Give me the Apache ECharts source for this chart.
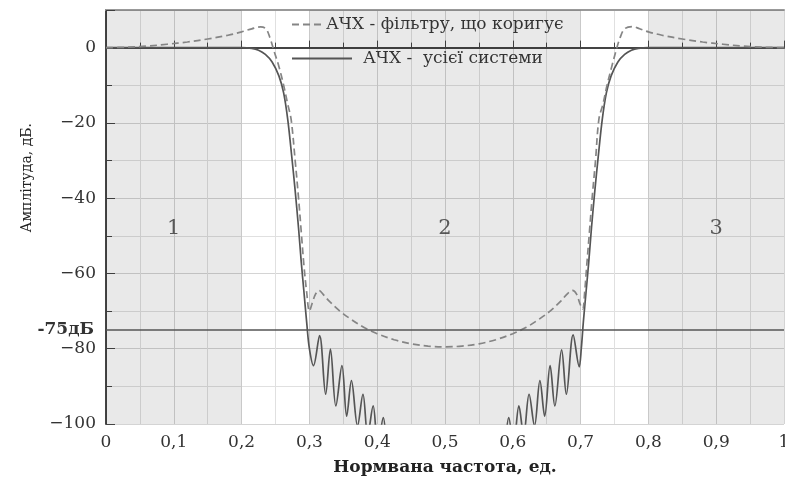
<!DOCTYPE html>
<html><head><meta charset="utf-8">
<script src="https://cdn.jsdelivr.net/npm/echarts@6/dist/echarts.min.js"></script>
<style>html,body{margin:0;padding:0;background:#fff}#c{width:785px;height:489px}</style>
</head><body><div id="c"></div>
<script>
// ---- data ----
const xTickValues = [0, 0.1, 0.2, 0.3, 0.4, 0.5, 0.6, 0.7, 0.8, 0.9, 1];
const yTickValues = [0, -20, -40, -60, -80, -100];
const refLevel = -75;
const refLabel = '-75дБ';
const shadedBands = [[0, 0.2], [0.3, 0.7], [0.8, 1]];
const regionNames = ['1', '2', '3'];
const regionX = [0.1, 0.5, 0.9];
const regionY = [-48, -48, -48];

const systemName = 'АЧХ -  усієї системи';
const systemX = [0, 0.1, 0.2, 0.215, 0.225, 0.235, 0.245, 0.255, 0.262, 0.268, 0.274, 0.279, 0.284, 0.288, 0.292, 0.296, 0.300, 0.306,
  0.315, 0.324, 0.331, 0.339, 0.348, 0.355, 0.362, 0.371, 0.379, 0.386, 0.394, 0.401, 0.409, 0.416, 0.423, 0.43, 0.45, 0.5,
  0.55, 0.57, 0.579, 0.586, 0.594, 0.601, 0.609, 0.616, 0.624, 0.632, 0.640, 0.647, 0.655, 0.662, 0.672, 0.679, 0.689, 0.698,
  0.701, 0.704, 0.708, 0.712, 0.716, 0.721, 0.726, 0.732, 0.738, 0.745, 0.755, 0.765, 0.775, 0.785, 0.8, 0.9, 1];
const systemY = [0, 0, 0, -0.2, -0.7, -1.8, -3.8, -7.5, -12, -19, -29, -38, -48, -57, -65, -73, -80, -84.5,
  -76.5, -92.1, -80.1, -95.2, -84.5, -97.9, -88.5, -100.5, -92.1, -103, -95.2, -106, -98.3, -108, -101, -110, -120, -125,
  -120, -110, -101, -108, -98.3, -106, -95.2, -103, -92.1, -100.5, -88.5, -97.9, -84.5, -95.2, -80.3, -92.1, -76.3, -84.8,
  -80, -73, -65, -57, -48, -38, -29, -19, -12, -7.5, -3.8, -1.8, -0.7, -0.2, 0, 0, 0];

const filterName = 'АЧХ - фільтру, що коригує';
const filterX = [0, 0.03, 0.06, 0.09, 0.12, 0.15, 0.18, 0.2, 0.215, 0.228, 0.236, 0.242, 0.248, 0.255, 0.262, 0.268, 0.273, 0.279,
  0.284, 0.288, 0.292, 0.296, 0.300, 0.304, 0.309, 0.314, 0.32, 0.33, 0.345, 0.36, 0.38, 0.40, 0.425, 0.45, 0.475, 0.5,
  0.525, 0.55, 0.575, 0.6, 0.62, 0.64, 0.655, 0.67, 0.68, 0.688, 0.694, 0.699, 0.703, 0.706, 0.709, 0.713, 0.717, 0.722,
  0.727, 0.733, 0.739, 0.746, 0.752, 0.758, 0.765, 0.777, 0.787, 0.8, 0.82, 0.85, 0.88, 0.91, 0.94, 0.97, 1];
const filterY = [0, 0.1, 0.4, 0.9, 1.5, 2.3, 3.3, 4.2, 5.0, 5.5, 5.0, 2.5, -1, -5, -10, -15, -19, -30,
  -40, -49, -58, -65, -70, -68, -65.5, -64.5, -65.5, -67.5, -70, -72, -74.3, -76, -77.6, -78.7, -79.3, -79.5,
  -79.3, -78.7, -77.6, -76, -74.3, -72, -70, -67.5, -65.5, -64.5, -65.5, -68, -69.5, -65, -58, -49, -40, -30,
  -19, -15, -10, -5, -1, 2.5, 5.0, 5.6, 5.0, 4.2, 3.3, 2.3, 1.5, 0.9, 0.4, 0.1, 0];

// ---- chart ----
const zip = (xs, ys) => xs.map((x, i) => [x, ys[i]]);
const serif = 'DejaVu Serif';
const chart = echarts.init(document.getElementById('c'), null, {renderer: 'canvas'});
chart.setOption({
  animation: false,
  backgroundColor: '#fff',
  textStyle: {fontFamily: serif},
  grid: {left: 106, right: 1, top: 10, bottom: 65, containLabel: false, outerBoundsMode: 'none'},
  legend: [
    {data: [filterName], left: 286, top: 11, itemWidth: 32, itemHeight: 12, itemStyle: {opacity: 0},
     textStyle: {fontFamily: serif, fontSize: 17, color: '#333', padding: [0, 0, 0, -3]}},
    {data: [systemName], left: 286, top: 45, itemWidth: 60, itemHeight: 12, itemStyle: {opacity: 0},
     textStyle: {fontFamily: serif, fontSize: 17, color: '#333', padding: [0, 0, 0, 6]}}
  ],
  xAxis: [{
    type: 'value', min: 0, max: 1, interval: 0.1,
    name: 'Нормвана частота, ед.', nameLocation: 'middle', nameGap: 35,
    nameTextStyle: {fontFamily: serif, fontSize: 17, fontWeight: 'bold', color: '#222'},
    axisLine: {show: true, lineStyle: {color: '#444', width: 2}},
    axisTick: {show: true, inside: true, length: 7, lineStyle: {color: '#444'}},
    minorTick: {show: true, splitNumber: 2, length: 5, lineStyle: {color: '#444'}},
    splitLine: {show: true, lineStyle: {color: '#d4d4d4', width: 1}},
    minorSplitLine: {show: true, lineStyle: {color: '#e0e0e0', width: 1}},
    axisLabel: {fontFamily: serif, fontSize: 17, color: '#333', margin: 10,
      formatter: v => xTickValues.some(t => Math.abs(t - v) < 1e-6) ? String(Math.round(v * 10) / 10).replace('.', ',') : ''}
  }, {
    type: 'value', min: 0, max: 1, position: 'top',
    axisLine: {show: true, lineStyle: {color: '#999', width: 2}},
    axisTick: {show: false}, axisLabel: {show: false}, splitLine: {show: false}
  }],
  yAxis: {
    type: 'value', min: -100, max: 10, interval: 20,
    axisLine: {show: true, lineStyle: {color: '#444', width: 2}},
    axisTick: {show: true, inside: true, length: 9, lineStyle: {color: '#444'}},
    minorTick: {show: true, splitNumber: 2, length: 6, lineStyle: {color: '#444'}},
    splitLine: {show: true, lineStyle: {color: '#d4d4d4', width: 1}},
    minorSplitLine: {show: true, lineStyle: {color: '#e0e0e0', width: 1}},
    axisLabel: {fontFamily: serif, fontSize: 17, color: '#333', margin: 10,
      formatter: v => yTickValues.includes(v) ? String(v).replace('-', '\u2212') : ''}
  },
  graphic: [{
    type: 'text', left: 20, top: 123, rotation: Math.PI / 2,
    style: {text: 'Амплітуда, дБ.', font: '14px "DejaVu Serif"', fill: '#222'}
  }],
  series: [
    {
      name: systemName, type: 'line', data: zip(systemX, systemY),
      symbol: 'none', smooth: 0.35, clip: true, z: 3,
      lineStyle: {color: '#555', width: 1.7},
      itemStyle: {color: '#555'},
      markArea: {silent: true, itemStyle: {color: 'rgba(0,0,0,0.085)'},
        data: shadedBands.map(b => [{xAxis: b[0]}, {xAxis: b[1]}])},
      markLine: {silent: true, symbol: 'none', lineStyle: {color: '#555', width: 1.5, type: 'solid'},
        label: {show: true, position: 'start', formatter: refLabel, fontFamily: serif, fontSize: 17, fontWeight: 'bold', color: '#333', distance: 12},
        data: [{yAxis: refLevel}]}
    },
    {
      name: filterName, type: 'line', data: zip(filterX, filterY),
      symbol: 'none', smooth: 0.35, clip: true, z: 4,
      lineStyle: {color: '#858585', width: 1.7, type: [7, 4]},
      itemStyle: {color: '#858585'}
    },
    {
      type: 'scatter', data: regionX.map((x, i) => ({value: [x, regionY[i]], name: regionNames[i]})),
      symbolSize: 0, silent: true,
      label: {show: true, position: 'inside', formatter: p => p.name, fontFamily: serif, fontSize: 21, color: '#333'}
    }
  ]
});
</script></body></html>
